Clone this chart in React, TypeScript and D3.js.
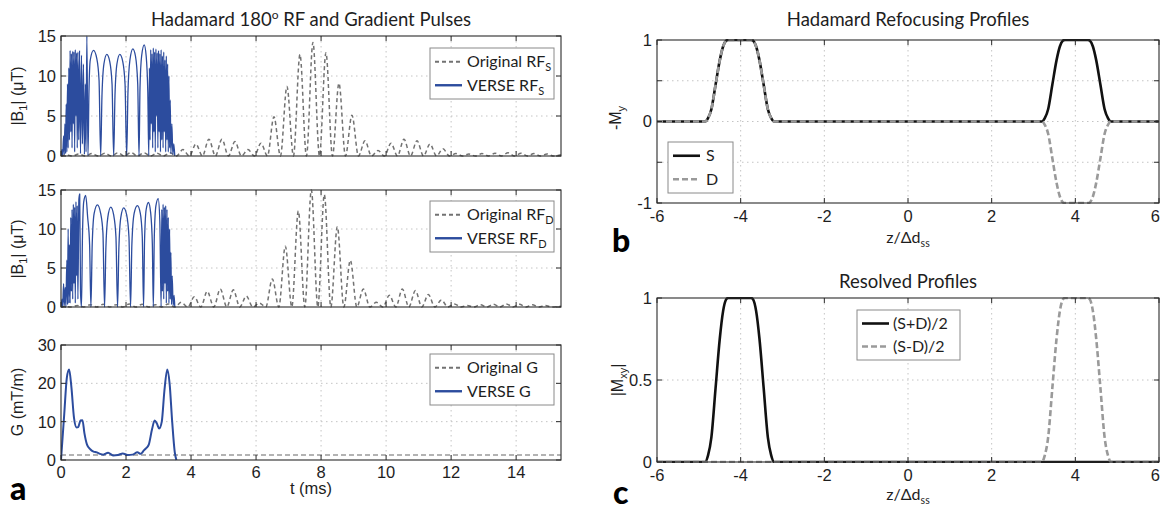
import React from 'react';
import * as d3 from 'd3';

type Pt = [number, number];

// ---------- axes / ticks ----------
const T_TICKS = [0, 2, 4, 6, 8, 10, 12, 14];
const B1_TICKS = [0, 5, 10, 15];
const G_TICKS = [0, 10, 20, 30];
const Z_TICKS = [-6, -4, -2, 0, 2, 4, 6];
const MY_TICKS = [-1, -0.5, 0, 0.5, 1];
const MY_LABELED = [-1, 0, 1];
const MXY_TICKS = [0, 0.5, 1];
const T_DOMAIN: [number, number] = [0, 15.38];
const Z_DOMAIN: [number, number] = [-6, 6];

// ---------- panel a: original RF (|B1|, uT) ----------
const ORIG_RF_S: Pt[] = [
  [0, 0], [0.15, 0.15], [0.35, 0], [0.55, 0.25], [0.75, 0], [0.95, 0.3], [1.15, 0], [1.35, 0.35], [1.55, 0],
  [1.75, 0.4], [1.95, 0], [2.15, 0.45], [2.35, 0], [2.55, 0.4], [2.75, 0], [2.95, 0.35], [3.15, 0], [3.35, 0.4],
  [3.55, 0], [3.75, 0.8], [3.95, 0], [4.15, 1.5], [4.35, 0], [4.55, 2.1], [4.75, 0], [4.95, 2.1], [5.15, 0],
  [5.35, 1.8], [5.55, 0], [5.75, 0.8], [5.95, 0], [6.15, 1.6], [6.35, 0], [6.55, 4.9], [6.75, 0], [6.95, 8.7],
  [7.15, 0], [7.35, 12.7], [7.55, 0], [7.75, 14.2], [7.95, 0], [8.15, 12.9], [8.35, 0], [8.55, 9.1], [8.75, 0],
  [8.95, 5.1], [9.15, 0], [9.35, 1.9], [9.55, 0], [9.75, 0.7], [9.95, 0], [10.15, 1.6], [10.35, 0], [10.55, 2.1],
  [10.75, 0], [10.95, 1.9], [11.15, 0], [11.35, 1.5], [11.55, 0], [11.75, 0.9], [11.95, 0], [12.15, 0.3],
  [12.35, 0], [12.55, 0.25], [12.75, 0], [12.95, 0.3], [13.15, 0], [13.35, 0.35], [13.55, 0], [13.75, 0.4],
  [13.95, 0], [14.15, 0.35], [14.35, 0], [14.55, 0.3], [14.75, 0], [14.95, 0.25], [15.15, 0], [15.38, 0.15],
];

const ORIG_RF_D: Pt[] = [
  [0, 0], [0.1, 0.1], [0.3, 0], [0.5, 0.2], [0.7, 0], [0.9, 0.3], [1.1, 0], [1.3, 0.35], [1.5, 0], [1.7, 0.3],
  [1.9, 0], [2.1, 0.4], [2.3, 0], [2.5, 0.35], [2.7, 0], [2.9, 0.3], [3.1, 0], [3.3, 0.4], [3.5, 0], [3.7, 0.6],
  [3.9, 0], [4.1, 1.3], [4.3, 0], [4.5, 2.0], [4.7, 0], [4.9, 2.3], [5.1, 0], [5.3, 2.2], [5.5, 0], [5.7, 1.4],
  [5.9, 0], [6.1, 0.5], [6.3, 0], [6.5, 3.6], [6.7, 0], [6.9, 7.8], [7.1, 0], [7.3, 12.3], [7.5, 0], [7.7, 15.0],
  [7.9, 0], [8.1, 14.4], [8.3, 0], [8.5, 10.3], [8.7, 0], [8.9, 6.0], [9.1, 0], [9.3, 2.3], [9.5, 0], [9.7, 0.6],
  [9.9, 0], [10.1, 1.5], [10.3, 0], [10.5, 2.3], [10.7, 0], [10.9, 2.1], [11.1, 0], [11.3, 1.6], [11.5, 0],
  [11.7, 0.9], [11.9, 0], [12.1, 0.4], [12.3, 0], [12.5, 0.2], [12.7, 0], [12.9, 0.3], [13.1, 0], [13.3, 0.35],
  [13.5, 0], [13.7, 0.4], [13.9, 0], [14.1, 0.35], [14.3, 0], [14.5, 0.3], [14.7, 0], [14.9, 0.2], [15.1, 0],
  [15.38, 0.1],
];

// ---------- panel a: VERSE RF ----------
const VERSE_RF_S: Pt[] = [
  [0, 0], [0.03, 0.8], [0.05, 0], [0.08, 2.5], [0.1, 0.2], [0.12, 4], [0.14, 0.3], [0.16, 6.5], [0.18, 0.5],
  [0.2, 9], [0.22, 1], [0.24, 11], [0.26, 2], [0.28, 13.2], [0.3, 3], [0.32, 12.8], [0.34, 1], [0.36, 13.1],
  [0.38, 4], [0.4, 13], [0.42, 0.5], [0.44, 13.3], [0.46, 5], [0.48, 12.9], [0.5, 1], [0.52, 13], [0.545, 2],
  [0.57, 13.2], [0.6, 0.3], [0.63, 12.6], [0.66, 1.5], [0.69, 11.5], [0.72, 0.2], [0.75, 9], [0.77, 0.5],
  [0.795, 15], [0.83, 0],
  [0.86, 8], [0.9, 12], [1.0, 13.2], [1.1, 12.2], [1.17, 9.5], [1.22, 0],
  [1.26, 7.5], [1.32, 11.5], [1.41, 12.7], [1.5, 11.8], [1.57, 9], [1.62, 0],
  [1.66, 7.5], [1.72, 11.5], [1.81, 12.7], [1.9, 11.8], [1.97, 9], [2.02, 0],
  [2.06, 8], [2.12, 12], [2.21, 13.4], [2.29, 12.5], [2.36, 9], [2.4, 0],
  [2.43, 8.5], [2.48, 12.5], [2.56, 13.9], [2.62, 12.5], [2.67, 8], [2.7, 0],
  [2.72, 11], [2.74, 2], [2.76, 13.3], [2.78, 4], [2.8, 12.8], [2.82, 1], [2.84, 13.5], [2.86, 3], [2.88, 13],
  [2.9, 0.5], [2.92, 13.4], [2.94, 5], [2.96, 12.9], [2.98, 1], [3.0, 13.2], [3.02, 3], [3.04, 12.8],
  [3.06, 0.5], [3.08, 13.3], [3.1, 2], [3.12, 12.5], [3.14, 1], [3.16, 13], [3.18, 3], [3.2, 12], [3.22, 0.5],
  [3.24, 12.5], [3.26, 2], [3.28, 11.5], [3.3, 0.5], [3.32, 10], [3.34, 1], [3.36, 7], [3.38, 0.3], [3.41, 4],
  [3.44, 0.2], [3.47, 1.5], [3.5, 0],
];

const VERSE_RF_D: Pt[] = [
  [0, 0], [0.03, 1], [0.05, 0], [0.08, 3], [0.1, 0.2], [0.13, 2.5], [0.15, 0], [0.18, 6], [0.2, 0.3],
  [0.22, 10], [0.24, 0.5], [0.26, 8], [0.28, 0.5], [0.3, 11.5], [0.32, 2], [0.34, 12.5], [0.36, 1],
  [0.38, 13.2], [0.4, 3], [0.42, 12.8], [0.44, 0.5], [0.46, 13.5], [0.48, 4], [0.5, 13], [0.52, 1],
  [0.55, 13.8], [0.575, 14.5], [0.6, 2], [0.63, 0],
  [0.66, 9], [0.7, 13.5], [0.76, 14.3], [0.82, 11.5], [0.88, 8], [0.92, 0],
  [0.96, 8], [1.02, 12], [1.12, 13.1], [1.22, 12], [1.29, 9.5], [1.34, 0],
  [1.38, 7.5], [1.44, 11.5], [1.53, 12.8], [1.62, 11.8], [1.69, 9], [1.74, 0],
  [1.78, 7.5], [1.84, 11.5], [1.93, 12.7], [2.02, 11.8], [2.09, 9], [2.14, 0],
  [2.18, 8], [2.25, 12], [2.35, 13.0], [2.44, 12], [2.5, 9], [2.54, 0],
  [2.57, 8.5], [2.62, 12.5], [2.69, 13.4], [2.76, 12], [2.81, 8], [2.84, 0],
  [2.87, 9], [2.92, 13], [2.99, 13.9], [3.04, 11], [3.08, 0],
  [3.1, 12.5], [3.12, 2], [3.14, 13.2], [3.16, 1], [3.18, 12.8], [3.2, 3], [3.22, 13], [3.24, 0.5],
  [3.26, 12.5], [3.28, 2], [3.3, 11.5], [3.32, 0.5], [3.34, 10], [3.36, 1], [3.38, 7], [3.4, 0.3],
  [3.42, 4], [3.45, 0.2], [3.48, 1.5], [3.5, 0],
];

// ---------- panel a: gradients (mT/m) ----------
const ORIG_G: Pt[] = [[0, 1.3], [15.38, 1.3]];
const VERSE_G: Pt[] = [
  [0, 0], [0.1, 12], [0.18, 21.5], [0.25, 23.6], [0.32, 19], [0.4, 11], [0.48, 8.5], [0.53, 8.6], [0.6, 10.3],
  [0.66, 10.4], [0.72, 7], [0.8, 4], [0.9, 2.8], [1.0, 2.2], [1.1, 2.0], [1.2, 1.6], [1.3, 1.4], [1.45, 1.9],
  [1.6, 1.2], [1.75, 1.3], [1.9, 1.7], [2.05, 1.3], [2.2, 1.4], [2.35, 2.0], [2.45, 1.6], [2.55, 2.5],
  [2.62, 3.1], [2.7, 4], [2.8, 8], [2.88, 10.3], [2.95, 9.5], [3.02, 8.2], [3.1, 10], [3.18, 18], [3.27, 23.6],
  [3.34, 20], [3.42, 10], [3.5, 2], [3.55, 0],
];

// ---------- panel b / c: slice profiles ----------
const S_PROFILE: Pt[] = [
  [-6, 0], [-4.85, 0], [-4.78, 0.04], [-4.7, 0.15], [-4.6, 0.45], [-4.5, 0.75], [-4.42, 0.92], [-4.35, 0.99],
  [-4.3, 1], [-3.75, 1], [-3.7, 0.99], [-3.63, 0.92], [-3.55, 0.75], [-3.45, 0.45], [-3.35, 0.15],
  [-3.27, 0.04], [-3.2, 0], [3.2, 0], [3.27, 0.04], [3.35, 0.15], [3.45, 0.45], [3.55, 0.75], [3.63, 0.92],
  [3.7, 0.99], [3.75, 1], [4.3, 1], [4.35, 0.99], [4.42, 0.92], [4.5, 0.75], [4.6, 0.45], [4.7, 0.15],
  [4.78, 0.04], [4.85, 0], [6, 0],
];
const D_PROFILE: Pt[] = [
  [-6, 0], [-4.85, 0], [-4.78, 0.04], [-4.7, 0.15], [-4.6, 0.45], [-4.5, 0.75], [-4.42, 0.92], [-4.35, 0.99],
  [-4.3, 1], [-3.75, 1], [-3.7, 0.99], [-3.63, 0.92], [-3.55, 0.75], [-3.45, 0.45], [-3.35, 0.15],
  [-3.27, 0.04], [-3.2, 0], [3.2, 0], [3.27, -0.04], [3.35, -0.15], [3.45, -0.45], [3.55, -0.75],
  [3.63, -0.92], [3.7, -0.99], [3.75, -1], [4.3, -1], [4.35, -0.99], [4.42, -0.92], [4.5, -0.75],
  [4.6, -0.45], [4.7, -0.15], [4.78, -0.04], [4.85, 0], [6, 0],
];
const SUM_PROFILE: Pt[] = [
  [-6, 0], [-4.85, 0], [-4.78, 0.04], [-4.7, 0.15], [-4.6, 0.45], [-4.5, 0.75], [-4.42, 0.92], [-4.35, 0.99],
  [-4.3, 1], [-3.75, 1], [-3.7, 0.99], [-3.63, 0.92], [-3.55, 0.75], [-3.45, 0.45], [-3.35, 0.15],
  [-3.27, 0.04], [-3.2, 0], [6, 0],
];
const DIFF_PROFILE: Pt[] = [
  [-6, 0], [3.2, 0], [3.27, 0.04], [3.35, 0.15], [3.45, 0.45], [3.55, 0.75], [3.63, 0.92], [3.7, 0.99],
  [3.75, 1], [4.3, 1], [4.35, 0.99], [4.42, 0.92], [4.5, 0.75], [4.6, 0.45], [4.7, 0.15], [4.78, 0.04],
  [4.85, 0], [6, 0],
];

// ---------- styling ----------
const F_NUM = "'Liberation Sans', Arial, Helvetica, sans-serif";
const F_TXT = "Lato, 'Open Sans', sans-serif";
const INK = '#1e1e1e';
const BLUE = '#2c4c9e';
const GRAY_A = '#727272';
const GRAY_B = '#9a9a9a';
const NUM_SIZE = 16.5;

interface SeriesDef {
  data: Pt[];
  color: string;
  width: number;
  dash?: string;
  curve?: d3.CurveFactory;
}

interface LegendRow {
  color: string;
  width: number;
  dash?: string;
  label: React.ReactNode;
}

interface PanelDef {
  id: string;
  left: number;
  right: number;
  top: number;
  bottom: number;
  xDom: [number, number];
  yDom: [number, number];
  xTicks: number[];
  yTicks: number[];
  yLabeled: number[];
  showXLabels: boolean;
  xLabelDy: number;
  series: SeriesDef[];
  legend: { x: number; y: number; w: number; h: number; lineX: [number, number]; textX: number; rows: LegendRow[] };
}

function Panel({ p }: { p: PanelDef }) {
  const xs = d3.scaleLinear().domain(p.xDom).range([p.left, p.right]);
  const ys = d3.scaleLinear().domain(p.yDom).range([p.bottom, p.top]);
  const tl = 5;
  const gen = (s: SeriesDef) =>
    d3
      .line<Pt>()
      .x((d) => xs(d[0]))
      .y((d) => ys(d[1]))
      .curve(s.curve ?? d3.curveMonotoneX)(s.data) || '';
  const lg = p.legend;
  const rowH = lg.h / lg.rows.length;
  return (
    <g>
      <defs>
        <clipPath id={p.id}>
          <rect x={p.left} y={p.top - 1} width={p.right - p.left} height={p.bottom - p.top + 2} />
        </clipPath>
      </defs>
      <rect x={p.left} y={p.top} width={p.right - p.left} height={p.bottom - p.top} fill="#fff" />
      {p.xTicks
        .filter((t) => t > p.xDom[0] && t < p.xDom[1])
        .map((t) => (
          <line key={'gx' + t} x1={xs(t)} x2={xs(t)} y1={p.top} y2={p.bottom} stroke="#c4c4c4" strokeWidth={1} strokeDasharray="1.5,3.5" />
        ))}
      {p.yTicks
        .filter((t) => t > p.yDom[0] && t < p.yDom[1])
        .map((t) => (
          <line key={'gy' + t} x1={p.left} x2={p.right} y1={ys(t)} y2={ys(t)} stroke="#c4c4c4" strokeWidth={1} strokeDasharray="1.5,3.5" />
        ))}
      <g clipPath={`url(#${p.id})`}>
        {p.series.map((s, i) => (
          <path key={i} d={gen(s)} fill="none" stroke={s.color} strokeWidth={s.width} strokeDasharray={s.dash} strokeLinejoin="round" />
        ))}
      </g>
      <rect x={p.left} y={p.top} width={p.right - p.left} height={p.bottom - p.top} fill="none" stroke="#2a2a2a" strokeWidth={1.1} />
      {p.xTicks.map((t) => {
        const atEdge = xs(t) > 1150;
        return (
          <g key={'tx' + t}>
            <line x1={xs(t)} x2={xs(t)} y1={p.bottom} y2={p.bottom - tl} stroke="#2a2a2a" strokeWidth={1} />
            <line x1={xs(t)} x2={xs(t)} y1={p.top} y2={p.top + tl} stroke="#2a2a2a" strokeWidth={1} />
            {p.showXLabels && (
              <text
                x={atEdge ? 1160 : xs(t)}
                y={p.bottom + p.xLabelDy}
                textAnchor={atEdge ? 'end' : 'middle'}
                fontFamily={F_NUM}
                fontSize={NUM_SIZE}
                fill={INK}
              >
                {t}
              </text>
            )}
          </g>
        );
      })}
      {p.yTicks.map((t) => (
        <g key={'ty' + t}>
          <line x1={p.left} x2={p.left + tl} y1={ys(t)} y2={ys(t)} stroke="#2a2a2a" strokeWidth={1} />
          <line x1={p.right} x2={p.right - tl} y1={ys(t)} y2={ys(t)} stroke="#2a2a2a" strokeWidth={1} />
        </g>
      ))}
      {p.yLabeled.map((t) => (
        <text key={'ly' + t} x={p.left - 5} y={ys(t)} dy="0.36em" textAnchor="end" fontFamily={F_NUM} fontSize={NUM_SIZE} fill={INK}>
          {t}
        </text>
      ))}
      <rect x={lg.x} y={lg.y} width={lg.w} height={lg.h} fill="#fff" stroke="#8a8a8a" strokeWidth={1} />
      {lg.rows.map((r, i) => {
        const cy = lg.y + rowH * (i + 0.5) + (i === 0 ? 1 : -1);
        return (
          <g key={'lg' + i}>
            <line x1={lg.lineX[0]} x2={lg.lineX[1]} y1={cy} y2={cy} stroke={r.color} strokeWidth={r.width} strokeDasharray={r.dash} />
            <text x={lg.textX} y={cy} dy="0.35em" fontFamily={F_TXT} fontSize={16} fill={INK}>
              {r.label}
            </text>
          </g>
        );
      })}
    </g>
  );
}

const sub = (main: string, s: string, size = 11) => (
  <>
    <tspan>{main}</tspan>
    <tspan dy={4} fontSize={size}>{s}</tspan>
  </>
);

export default function App() {
  const LX: [number, number] = [61, 561];
  const RX: [number, number] = [657, 1159];
  const legA = (y: number, a: React.ReactNode, b: React.ReactNode) => ({
    x: 430,
    y,
    w: 124,
    h: 51,
    lineX: [435, 462] as [number, number],
    textX: 467,
    rows: [
      { color: GRAY_A, width: 2, dash: '4,3', label: a },
      { color: BLUE, width: 2.4, label: b },
    ],
  });

  const panels: PanelDef[] = [
    {
      id: 'a1', left: LX[0], right: LX[1], top: 36, bottom: 156, xDom: T_DOMAIN, yDom: [0, 15],
      xTicks: T_TICKS, yTicks: B1_TICKS, yLabeled: B1_TICKS, showXLabels: false, xLabelDy: 18,
      series: [
        { data: ORIG_RF_S, color: GRAY_A, width: 1.5, dash: '4,3' },
        { data: VERSE_RF_S, color: BLUE, width: 1.3 },
      ],
      legend: legA(48, sub('Original RF', 'S'), sub('VERSE RF', 'S')),
    },
    {
      id: 'a2', left: LX[0], right: LX[1], top: 190, bottom: 307, xDom: T_DOMAIN, yDom: [0, 15],
      xTicks: T_TICKS, yTicks: B1_TICKS, yLabeled: B1_TICKS, showXLabels: false, xLabelDy: 18,
      series: [
        { data: ORIG_RF_D, color: GRAY_A, width: 1.5, dash: '4,3' },
        { data: VERSE_RF_D, color: BLUE, width: 1.3 },
      ],
      legend: legA(201, sub('Original RF', 'D'), sub('VERSE RF', 'D')),
    },
    {
      id: 'a3', left: LX[0], right: LX[1], top: 345, bottom: 460, xDom: T_DOMAIN, yDom: [0, 30],
      xTicks: T_TICKS, yTicks: G_TICKS, yLabeled: G_TICKS, showXLabels: true, xLabelDy: 18,
      series: [
        { data: ORIG_G, color: GRAY_B, width: 1.6, dash: '5,3', curve: d3.curveLinear },
        { data: VERSE_G, color: BLUE, width: 2 },
      ],
      legend: legA(354, 'Original G', 'VERSE G'),
    },
    {
      id: 'b', left: RX[0], right: RX[1], top: 40, bottom: 203, xDom: Z_DOMAIN, yDom: [-1, 1],
      xTicks: Z_TICKS, yTicks: MY_TICKS, yLabeled: MY_LABELED, showXLabels: true, xLabelDy: 19,
      series: [
        { data: S_PROFILE, color: '#111', width: 2.6 },
        { data: D_PROFILE, color: GRAY_B, width: 2.6, dash: '6,3' },
      ],
      legend: {
        x: 668, y: 142, w: 65, h: 51, lineX: [673, 700], textX: 706,
        rows: [
          { color: '#111', width: 2.6, label: 'S' },
          { color: GRAY_B, width: 2.6, dash: '6,3', label: 'D' },
        ],
      },
    },
    {
      id: 'c', left: RX[0], right: RX[1], top: 298, bottom: 462, xDom: Z_DOMAIN, yDom: [0, 1],
      xTicks: Z_TICKS, yTicks: MXY_TICKS, yLabeled: MXY_TICKS, showXLabels: true, xLabelDy: 19,
      series: [
        { data: SUM_PROFILE, color: '#111', width: 2.6 },
        { data: DIFF_PROFILE, color: GRAY_B, width: 2.6, dash: '6,3' },
      ],
      legend: {
        x: 857, y: 310, w: 103, h: 50, lineX: [862, 889], textX: 893,
        rows: [
          { color: '#111', width: 2.6, label: '(S+D)/2' },
          { color: GRAY_B, width: 2.6, dash: '6,3', label: '(S-D)/2' },
        ],
      },
    },
  ];

  return (
    <div style={{ position: 'absolute', left: 0, top: 0 }}>
      <svg width={1161} height={510} style={{ display: 'block', background: '#fff' }}>
        <rect width={1161} height={510} fill="#fff" />
        {panels.map((p) => (
          <Panel key={p.id} p={p} />
        ))}

        <text x={311} y={26} textAnchor="middle" fontFamily={F_TXT} fontSize={18.5} fill={INK}>
          <tspan>Hadamard 180</tspan>
          <tspan dy={-7} fontSize={12}>o</tspan>
          <tspan dy={7}> RF and Gradient Pulses</tspan>
        </text>
        <text x={908} y={26} textAnchor="middle" fontFamily={F_TXT} fontSize={18.5} fill={INK}>
          Hadamard Refocusing Profiles
        </text>
        <text x={908} y={288} textAnchor="middle" fontFamily={F_TXT} fontSize={18.5} fill={INK}>
          Resolved Profiles
        </text>

        <text transform="translate(23,96) rotate(-90)" textAnchor="middle" fontFamily={F_NUM} fontSize={16} fill={INK}>
          <tspan>|B</tspan>
          <tspan dy={4} fontSize={11}>1</tspan>
          <tspan dy={-4}>| (μT)</tspan>
        </text>
        <text transform="translate(23,249) rotate(-90)" textAnchor="middle" fontFamily={F_NUM} fontSize={16} fill={INK}>
          <tspan>|B</tspan>
          <tspan dy={4} fontSize={11}>1</tspan>
          <tspan dy={-4}>| (μT)</tspan>
        </text>
        <text transform="translate(23,402) rotate(-90)" textAnchor="middle" fontFamily={F_NUM} fontSize={16} fill={INK}>
          G (mT/m)
        </text>
        <text transform="translate(621,118) rotate(-90)" textAnchor="middle" fontFamily={F_NUM} fontSize={16} fill={INK}>
          <tspan>-M</tspan>
          <tspan dy={4} fontSize={11}>y</tspan>
        </text>
        <text transform="translate(623,380) rotate(-90)" textAnchor="middle" fontFamily={F_NUM} fontSize={16} fill={INK}>
          <tspan>|M</tspan>
          <tspan dy={4} fontSize={11}>xy</tspan>
          <tspan dy={-4}>|</tspan>
        </text>

        <text x={311} y={494} textAnchor="middle" fontFamily={F_NUM} fontSize={16.5} fill={INK}>
          t (ms)
        </text>
        <text x={908} y={243} textAnchor="middle" fontFamily={F_TXT} fontSize={16} fill={INK}>
          <tspan>z/Δd</tspan>
          <tspan dy={4} fontSize={10.5}>ss</tspan>
        </text>
        <text x={908} y={500} textAnchor="middle" fontFamily={F_TXT} fontSize={16} fill={INK}>
          <tspan>z/Δd</tspan>
          <tspan dy={4} fontSize={10.5}>ss</tspan>
        </text>

        <text x={10} y={500} fontFamily={F_TXT} fontWeight={900} fontSize={32} fill="#000">a</text>
        <text x={612} y={252} fontFamily={F_TXT} fontWeight={900} fontSize={32} fill="#000">b</text>
        <text x={613} y={504} fontFamily={F_TXT} fontWeight={900} fontSize={32} fill="#000">c</text>
      </svg>
    </div>
  );
}
